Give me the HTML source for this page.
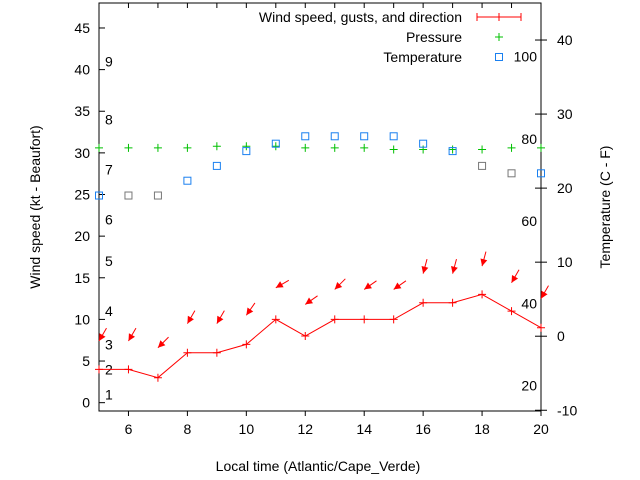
<!DOCTYPE html>
<html><head><meta charset="utf-8"><style>
body{margin:0;background:#fff;}
svg{display:block;font-family:"Liberation Sans",sans-serif;}
</style></head><body>
<svg id="c" width="640" height="480" viewBox="0 0 640 480"></svg>
<script>
const hours=[5,6,7,8,9,10,11,12,13,14,15,16,17,18,19,20];
const windSpeed=[4,4,3,6,6,7,10,8,10,10,10,12,12,13,11,9];
const gusts=[7.4,7.4,6.6,9.5,9.5,10.5,13.8,11.8,13.6,13.6,13.6,15.5,15.5,16.4,14.4,12.5];
const windDir=[30,30,45,30,30,35,60,55,45,55,55,15,15,15,30,30];
const pressure=[30.6,30.6,30.6,30.6,30.8,30.8,30.8,30.6,30.6,30.6,30.4,30.4,30.4,30.4,30.6,30.6];
const tempC=[19,19,19,21,23,25,26,27,27,27,27,26,25,23,22,22];
const tempGrey=[false,true,true,false,false,false,false,false,false,false,false,false,false,true,true,false];
const leftTicks=[0,5,10,15,20,25,30,35,40,45];
const rightTicks=[-10,0,10,20,30,40];
const xTicks=[6,8,10,12,14,16,18,20];
const beaufortLabels=["1","2","3","4","5","6","7","8","9"];
const beaufortVals=[1,4,7,11,17,22,28,34,41];
const fLabels=["20","40","60","80","100"];
const fVals=[20,40,60,80,100];

const L=99,R=541,T=3,B=411;
const X=v=>L+(v-5)*(R-L)/15;
const Y=v=>B-(v+1)*(B-T)/49;
const Y2=v=>B-(v+10.1)*(B-T)/55.1;
const svg=document.getElementById('c');
const NS='http://www.w3.org/2000/svg';
function mk(tag,at,parent){const e=document.createElementNS(NS,tag);for(const k in at)e.setAttribute(k,at[k]);(parent||svg).appendChild(e);return e;}
function txt(s,x,y,anchor,parent){const t=mk('text',{x:x,y:y,'font-size':14,'text-anchor':anchor,fill:'#000'},parent);t.textContent=s;return t;}

// frame
const frame=mk('rect',{x:L,y:T,width:R-L,height:B-T,fill:'none',stroke:'#000','stroke-width':1});



leftTicks.forEach(v=>{
  const l=mk('line',{x1:L,x2:L+6,y1:Y(v),y2:Y(v),stroke:'#000'});
  
  
  const t=txt(String(v),L-9,Y(v)+5,'end');
  
  
});
rightTicks.forEach(v=>{
  const l=mk('line',{x1:R-6,x2:R+6,y1:Y2(v),y2:Y2(v),stroke:'#000'});
  
  
  const t=txt(String(v),R+16,Y2(v)+5,'start');
  
  
});
for(let h=5;h<=20;h++){
  const l=mk('line',{x1:X(h),x2:X(h),y1:T,y2:T+5,stroke:'#000'});
  
  
}
xTicks.forEach(v=>{
  const l=mk('line',{x1:X(v),x2:X(v),y1:B,y2:B+5,stroke:'#000'});
  
  
  const t=txt(String(v),X(v),B+23,'middle');
  
  
});
beaufortLabels.forEach((s,i)=>{
  const t=txt(s,105,Y(beaufortVals[i])+5,'start');
  
  
});
fLabels.forEach((s,i)=>{
  const t=txt(s,537,Y2((fVals[i]-32)*5/9)+5,'end');
  
  
});

// axis titles
let t=txt('Local time (Atlantic/Cape_Verde)',318,471,'middle');


t=txt('Wind speed (kt - Beaufort)',0,0,'middle');
t.setAttribute('transform','translate(40,207) rotate(-90)');


t=txt('Temperature (C - F)',0,0,'middle');
t.setAttribute('transform','translate(610,207) rotate(-90)');



// pressure
pressure.forEach((v,i)=>{
  const g=mk('path',{d:`M${X(hours[i])-4},${Y(v)}h8M${X(hours[i])},${Y(v)-4}v8`,stroke:'#00c000','stroke-width':1});
  
  
});
// temperature
tempC.forEach((v,i)=>{
  const r=mk('rect',{x:X(hours[i])-3.5,y:Y2(v)-3.5,width:7,height:7,fill:'none',stroke:tempGrey[i]?'#777':'#1a80f0','stroke-width':1});
  
  
});
// wind line
const wl=mk('polyline',{points:hours.map((h,i)=>X(h)+','+Y(windSpeed[i])).join(' '),fill:'none',stroke:'#f00','stroke-width':1});


windSpeed.forEach((v,i)=>{
  const g=mk('path',{d:`M${X(hours[i])-4},${Y(v)}h8M${X(hours[i])},${Y(v)-4}v8`,stroke:'#f00'});
  
  
});
// gust arrows
gusts.forEach((v,i)=>{
  const x=X(hours[i]),y=Y(v),a=windDir[i]*Math.PI/180,len=15;
  const dx=Math.sin(a),dy=-Math.cos(a);
  const x0=x+dx*len,y0=y+dy*len;
  const g=mk('g',{});
  
  
  mk('line',{x1:x0,y1:y0,x2:x,y2:y,stroke:'#f00'},g);
  const px=-dy,py=dx;
  const hx=x+dx*7,hy=y+dy*7;
  mk('polygon',{points:`${x},${y} ${hx+px*3.5},${hy+py*3.5} ${hx-px*3.5},${hy-py*3.5}`,fill:'#f00'},g);
});

// legend
t=txt('Wind speed, gusts, and direction',462,22,'end');


const lw=mk('path',{d:'M477,17h44M477,13v8M499,13v8M521,13v8',stroke:'#f00'});


t=txt('Pressure',462,42,'end');


const lp=mk('path',{d:'M495,37h8M499,33v8',stroke:'#00c000'});


t=txt('Temperature',462,62,'end');


const lt=mk('rect',{x:495.5,y:53.5,width:7,height:7,fill:'none',stroke:'#1a80f0'});


</script>
</body></html>
